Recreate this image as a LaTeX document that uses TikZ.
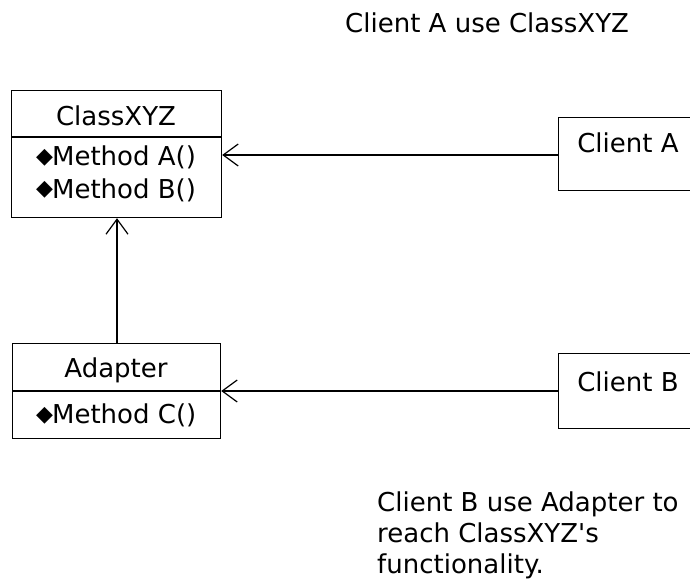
\documentclass[tikz,border=0pt]{standalone}
\usepackage{fontspec}
\setmainfont{DejaVu Sans}
\newfontfamily\symfont{DejaVu Sans}
\newfontfamily\nomapfont{DejaVu Sans}[Ligatures=ResetAll]
\usetikzlibrary{arrows.meta}
\newcommand{\bul}{{\symfont\fontsize{22}{24}\selectfont\raisebox{2pt}{◆}}\kern-1pt}
\begin{document}
\begin{tikzpicture}[x=1pt,y=-1pt,
  every node/.style={font=\fontsize{26}{30}\selectfont, inner sep=0pt},
  box/.style={draw, line width=1.2pt, anchor=north west},
  conn/.style={line width=1.2pt, -{Straight Barb[length=15pt,width=22pt,line width=1.2pt]}},
  lbl/.style={anchor=base west}]
\useasboundingbox (0,0) rectangle (690,588);
\fill[white] (0,0) rectangle (690,588);
\begin{scope}
\clip (0,0) rectangle (690,588);
% ClassXYZ
\node[box, minimum width=210pt, minimum height=127pt] (cls) at (11,90) {};
\draw[line width=1.2pt] (11,137) coordinate (clsdl) -- (221,137) coordinate (clsdr);
\node (clsname) at (116,116) {ClassXYZ};
\node[lbl] (ma) at (36,166) {\bul Method A()};
\node[lbl] (mb) at (36,198) {\bul Method B()};
% Adapter
\node[box, minimum width=208pt, minimum height=95pt] (adp) at (12,343) {};
\draw[line width=1.2pt] (12,391) -- (220,391);
\node (adpname) at (116,370) {Adapter};
\node[lbl] (mc) at (36,423) {\bul Method C()};
% Clients
\node[box, minimum width=150pt, minimum height=73pt] (ca) at (558,117) {};
\node (catext) at (628,143) {Client A};
\node[box, minimum width=150pt, minimum height=75pt] (cb) at (558,353) {};
\node (cbtext) at (628,382) {Client B};
% connectors
\draw[conn] (ca.west |- 0,155) -- (cls.east |- 0,155);
\draw[conn] (cb.west |- 0,391) -- (adp.east |- 0,391);
\draw[conn] (adp.north -| 117,0) -- (cls.south -| 117,0);
% notes
\node[lbl] (note1) at (345,33) {Client A use ClassXYZ};
\node[lbl] (n2a) at (377,511) {Client B use Adapter to};
\node[lbl] (n2b) at (377,542) {reach ClassXYZ{\nomapfont\fontsize{26}{30}\selectfont '}s};
\node[lbl] (n2c) at (377,573) {functionality.};
\end{scope}
\end{tikzpicture}
\end{document}
